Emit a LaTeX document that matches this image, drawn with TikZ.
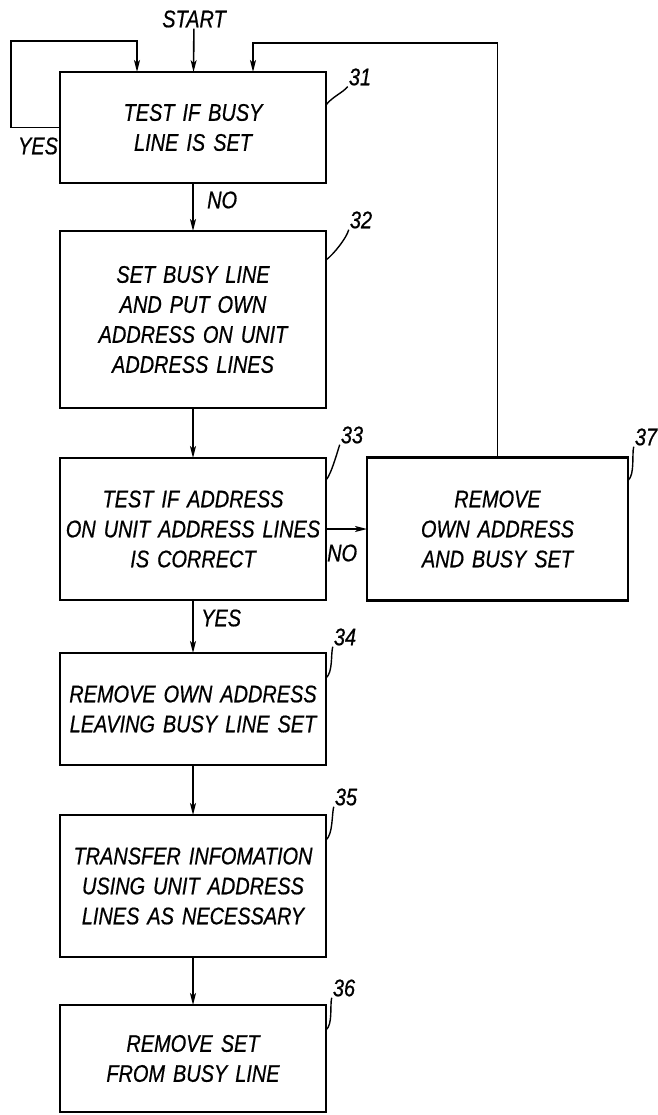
\documentclass[tikz,border=0pt]{standalone}
\usepackage{fontspec}
\newfontfamily\patfont{Liberation Sans}[FakeStretch=0.83,FakeBold=0.6]
\usetikzlibrary{arrows.meta,positioning}
\tikzset{
  flowbox/.style={draw, line width=2.2pt, minimum width=266pt, text width=262pt,
    minimum height=#1, inner sep=0pt, outer sep=0pt, align=center,
    font={\patfont\itshape\fontsize{24}{30}\selectfont}},
  flowbox/.default={110pt},
  flowarr/.style={-{Stealth[length=12pt,width=6pt,inset=3pt]}, line width=1.6pt},
  lbl/.style={inner sep=1pt, font={\patfont\itshape\fontsize{24}{26}\selectfont}},
  leader/.style={line width=1.4pt},
}

\begin{document}
\begin{tikzpicture}[x=1pt,y=-1pt]
  \useasboundingbox (0,0) rectangle (657,1115);
  \node[flowbox=111pt] (testbusy) at (193,127.5) {TEST IF BUSY\\LINE IS SET};
  \node[flowbox=177pt, below=48pt of testbusy] (setbusy)
    {SET BUSY LINE\\AND PUT OWN\\ADDRESS ON UNIT\\ADDRESS LINES};
  \node[flowbox=142pt, below=50pt of setbusy] (testaddr)
    {TEST IF ADDRESS\\ON UNIT ADDRESS LINES\\IS CORRECT};
  \node[flowbox=143pt, minimum width=261pt, text width=257pt, right=41pt of testaddr]
    (rmboth) {REMOVE\\OWN ADDRESS\\AND BUSY SET};
  \node[flowbox=112pt, below=53pt of testaddr] (rmown)
    {REMOVE OWN ADDRESS\\LEAVING BUSY LINE SET};
  \node[flowbox=142pt, below=50pt of rmown] (transfer)
    {TRANSFER INFOMATION\\USING UNIT ADDRESS\\LINES AS NECESSARY};
  \node[flowbox=107pt, below=48pt of transfer] (clearbusy)
    {REMOVE SET\\FROM BUSY LINE};

  % branch labels
  \node[lbl] (start) at (194,19) {START};
  \node[lbl] (yesloop) at (38,146) {YES};
  \node[lbl, anchor=west] (nobusy) at (206,200) {NO};
  \node[lbl, anchor=west] (noaddr) at (326,553) {NO};
  \node[lbl, anchor=west] (yesaddr) at (200,618) {YES};

  % reference numerals
  \node[lbl] (r31) at (360,77) {31};
  \node[lbl] (r32) at (361,220) {32};
  \node[lbl] (r33) at (352,435) {33};
  \node[lbl] (r37) at (646,437) {37};
  \node[lbl] (r34) at (345,637) {34};
  \node[lbl] (r35) at (346,797) {35};
  \node[lbl] (r36) at (344,988) {36};
  \draw[leader] ([yshift=-33pt]testbusy.north east) .. controls +(6,-8) and +(-5,6) .. (r31.south west);
  \draw[leader] ([yshift=-29pt]setbusy.north east) .. controls +(8,-6) and +(-2,8) .. (r32.south west);
  \draw[leader] ([yshift=-22pt]testaddr.north east) .. controls +(5,-5) and +(-2,6) .. (r33.south west);
  \draw[leader] ([yshift=-23pt]rmboth.north east) .. controls +(7,-6) and +(-2,8) .. (r37.south west);
  \draw[leader] ([yshift=-25pt]rmown.north east) .. controls +(7,-6) and +(-2,8) .. (r34.south west);
  \draw[leader] ([yshift=-25pt]transfer.north east) .. controls +(7,-6) and +(-2,8) .. (r35.south west);
  \draw[leader] ([yshift=-25pt]clearbusy.north east) .. controls +(7,-6) and +(-2,8) .. (r36.south west);

  % flow
  \draw[flowarr] (start) -- (testbusy);
  \draw[flowarr] (testbusy) -- (setbusy);
  \draw[flowarr] (setbusy) -- (testaddr);
  \draw[flowarr] (testaddr) -- (rmown);
  \draw[flowarr] (testaddr) -- (rmboth);
  \draw[flowarr] (rmown) -- (transfer);
  \draw[flowarr] (transfer) -- (clearbusy);
  \draw[flowarr] (testbusy.west) -- ++(-49,0) |- ([xshift=-56pt,yshift=31pt]testbusy.north)
    -- ([xshift=-56pt]testbusy.north);
  \draw[flowarr] (rmboth.north) |- ([xshift=60pt,yshift=29pt]testbusy.north)
    -- ([xshift=60pt]testbusy.north);
\end{tikzpicture}
\end{document}
